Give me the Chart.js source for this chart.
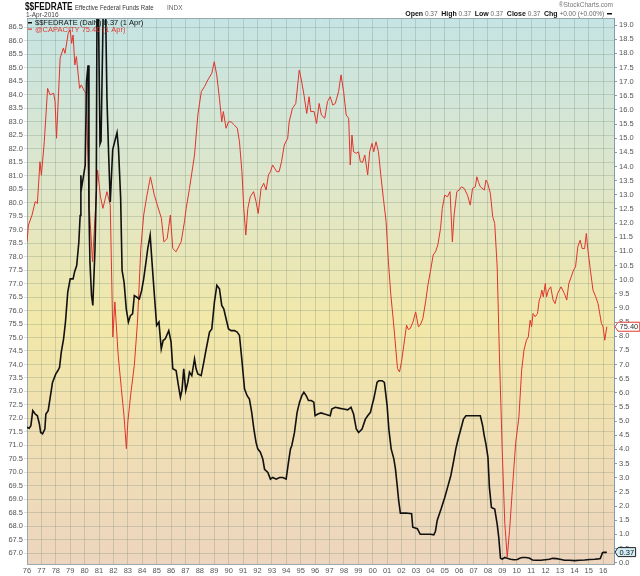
<!DOCTYPE html>
<html>
<head>
<meta charset="utf-8">
<title>$$FEDRATE Effective Federal Funds Rate</title>
<script src="https://cdn.jsdelivr.net/npm/chart.js@4.4.1/dist/chart.umd.min.js"></script>
<style>
  html, body { margin: 0; padding: 0; background: #fff; }
  #wrap { width: 640px; height: 576px; }
</style>
</head>
<body>
<div id="wrap"><canvas id="chart" width="640" height="576"></canvas></div>
<script>
// @CAPACITY (left axis)
const capYears = [
  1976.0, 1976.1, 1976.35, 1976.57, 1976.72, 1976.9, 1977.0, 1977.2, 1977.43, 1977.6,
  1977.85, 1977.95, 1978.05, 1978.3, 1978.52, 1978.64, 1978.86, 1979.0, 1979.1, 1979.2,
  1979.32, 1979.43, 1979.65, 1979.77, 1980.0, 1980.1, 1980.33, 1980.55, 1980.73, 1980.9,
  1981.1, 1981.27, 1981.55, 1981.78, 1981.96, 1982.1, 1982.33, 1982.55, 1982.73, 1982.9,
  1983.0, 1983.22, 1983.45, 1983.67, 1983.9, 1984.1, 1984.33, 1984.57, 1984.84, 1985.05,
  1985.33, 1985.5, 1985.73, 1985.95, 1986.12, 1986.35, 1986.7, 1986.93, 1987.05, 1987.28,
  1987.63, 1987.86, 1988.1, 1988.32, 1988.55, 1988.83, 1989.0, 1989.17, 1989.36, 1989.52,
  1989.63, 1989.82, 1989.99, 1990.17, 1990.4, 1990.6, 1990.75, 1990.92, 1991.05, 1991.19,
  1991.33, 1991.5, 1991.73, 1991.9, 1992.05, 1992.25, 1992.43, 1992.6, 1992.76, 1992.9,
  1993.05, 1993.34, 1993.5, 1993.67, 1993.86, 1994.1, 1994.2, 1994.43, 1994.66, 1994.9,
  1995.05, 1995.23, 1995.42, 1995.58, 1995.7, 1995.93, 1996.1, 1996.28, 1996.44, 1996.67,
  1996.86, 1997.05, 1997.23, 1997.4, 1997.63, 1997.8, 1997.98, 1998.16, 1998.33, 1998.44,
  1998.56, 1998.67, 1998.86, 1999.02, 1999.14, 1999.3, 1999.45, 1999.65, 1999.79, 1999.95,
  2000.07, 2000.23, 2000.4, 2000.56, 2000.74, 2000.93, 2001.09, 2001.26, 2001.44, 2001.6,
  2001.72, 2001.86, 2002.0, 2002.16, 2002.35, 2002.47, 2002.6, 2002.8, 2002.98, 2003.17,
  2003.3, 2003.48, 2003.67, 2003.83, 2004.0, 2004.2, 2004.36, 2004.52, 2004.71, 2004.83,
  2005.0, 2005.19, 2005.37, 2005.53, 2005.65, 2005.84, 2006.0, 2006.16, 2006.35, 2006.58,
  2006.77, 2006.93, 2007.12, 2007.23, 2007.35, 2007.47, 2007.75, 2007.86, 2007.98, 2008.17,
  2008.33, 2008.47, 2008.64, 2008.8, 2008.99, 2009.17, 2009.34, 2009.5, 2009.69, 2009.92,
  2010.15, 2010.34, 2010.5, 2010.67, 2010.8, 2010.93, 2011.03, 2011.13, 2011.28, 2011.44,
  2011.56, 2011.65, 2011.74, 2011.84, 2011.98, 2012.07, 2012.2, 2012.36, 2012.52, 2012.66,
  2012.83, 2013.07, 2013.31, 2013.47, 2013.61, 2013.78, 2013.94, 2014.08, 2014.24, 2014.4,
  2014.54, 2014.71, 2014.83, 2014.94, 2015.11, 2015.29, 2015.48, 2015.64, 2015.76, 2015.88,
  2015.99, 2016.11, 2016.25
];
const capValues = [
  78.55, 79.17, 79.54, 80.04, 79.97, 81.52, 81.02, 82.26, 84.24, 84.0,
  84.06, 83.75, 82.39, 85.36, 85.73, 85.54, 86.28, 86.41, 85.91, 86.22,
  85.11, 85.42, 84.24, 84.37, 84.12, 84.06, 79.79, 77.81, 79.54, 81.21,
  80.22, 79.79, 80.41, 79.91, 75.02, 76.32, 74.34, 73.11, 72.12, 70.88,
  71.87, 72.98, 73.97, 75.58, 78.3, 79.54, 80.28, 80.96, 80.28, 79.91,
  79.42, 78.55, 78.67, 79.54, 78.3, 78.18, 78.55, 79.29, 79.79, 80.53,
  81.77, 83.25, 84.12, 84.3, 84.55, 84.8, 85.23, 84.74, 83.87, 83.0,
  83.38, 82.76, 83.0, 83.0, 82.88, 82.76, 82.26, 81.15, 79.79, 78.8,
  79.79, 80.22, 80.41, 80.04, 79.6, 80.53, 80.72, 80.47, 81.03, 81.15,
  81.4, 81.15, 81.15, 81.52, 82.14, 82.39, 83.0, 83.5, 83.68, 84.92,
  84.55, 83.99, 83.31, 83.93, 83.38, 83.38, 82.94, 83.68, 83.25, 83.13,
  83.75, 83.93, 83.62, 83.68, 84.12, 84.74, 84.12, 83.25, 83.13, 81.4,
  82.51, 81.89, 81.83, 81.89, 81.52, 81.5, 81.77, 81.03, 81.89, 82.2,
  81.89, 82.26, 81.89, 81.03, 80.16, 79.29, 77.81, 76.57, 75.58, 74.59,
  73.85, 73.72, 74.1, 74.72, 75.46, 75.3, 75.33, 75.58, 75.95, 75.4,
  75.46, 75.7, 76.32, 76.94, 77.44, 78.06, 78.18, 78.43, 79.05, 79.79,
  80.28, 80.22, 80.41, 78.55, 79.54, 80.41, 80.47, 80.59, 80.53, 80.28,
  79.91, 80.53, 80.59, 80.96, 80.75, 80.59, 80.47, 80.84, 80.72, 80.34,
  79.48, 79.23, 77.62, 74.28, 70.82, 68.1, 66.86, 67.85, 69.33, 71.07,
  72.06, 73.79, 74.53, 74.9, 75.02, 75.64, 75.4, 75.89, 75.77, 75.89,
  76.39, 76.5, 76.76, 76.51, 77.0, 76.51, 76.76, 76.88, 76.39, 76.26,
  76.63, 76.88, 76.63, 76.39, 77.0, 77.25, 77.5, 77.62, 78.37, 78.61,
  78.3, 78.3, 78.86, 78.24, 77.5, 76.76, 76.51, 76.26, 75.89, 75.52,
  75.4, 74.9, 75.40
];

// $$FEDRATE (right axis)
const fedYears = [
  1976.0, 1976.15, 1976.27, 1976.4, 1976.57, 1976.72, 1976.86, 1976.95, 1977.08, 1977.24,
  1977.31, 1977.47, 1977.63, 1977.77, 1978.0, 1978.15, 1978.26, 1978.38, 1978.54, 1978.67,
  1978.83, 1979.0, 1979.2, 1979.3, 1979.45, 1979.6, 1979.69, 1979.74, 1979.78, 1979.9,
  1980.04, 1980.13, 1980.24, 1980.3, 1980.37, 1980.48, 1980.57, 1980.72, 1980.81, 1980.86,
  1980.95, 1981.07, 1981.14, 1981.3, 1981.45, 1981.55, 1981.67, 1981.78, 1981.95, 1982.1,
  1982.25, 1982.35, 1982.5, 1982.6, 1982.74, 1982.89, 1983.04, 1983.18, 1983.33,
  1983.45, 1983.63, 1983.8, 1983.96, 1984.1, 1984.26, 1984.38, 1984.55, 1984.71, 1984.88,
  1985.0, 1985.16, 1985.32, 1985.45, 1985.6, 1985.84, 1986.0, 1986.12, 1986.35, 1986.51,
  1986.65, 1986.76, 1986.88, 1987.02, 1987.16, 1987.28, 1987.44, 1987.63, 1987.74, 1987.86,
  1988.09, 1988.27, 1988.44, 1988.67, 1988.83, 1989.01, 1989.18, 1989.36, 1989.52, 1989.66,
  1989.82, 1989.99, 1990.17, 1990.4, 1990.59, 1990.75, 1990.91, 1991.1, 1991.28, 1991.44,
  1991.6, 1991.75, 1991.9, 1992.02, 1992.2, 1992.37, 1992.49, 1992.72, 1992.9, 1993.06,
  1993.3, 1993.53, 1993.76, 1993.99, 1994.15, 1994.29, 1994.38, 1994.57, 1994.75, 1994.92,
  1995.08, 1995.22, 1995.38, 1995.54, 1995.73, 1995.91, 1996.0, 1996.19, 1996.42, 1996.65,
  1996.88, 1997.05, 1997.16, 1997.4, 1997.74, 1997.98, 1998.26, 1998.49, 1998.67, 1998.86,
  1999.02, 1999.26, 1999.49, 1999.65, 1999.84, 1999.95, 2000.07, 2000.19, 2000.3, 2000.42,
  2000.65, 2000.81, 2001.0, 2001.12, 2001.28, 2001.47, 2001.58, 2001.7, 2001.8, 2001.92,
  2002.3, 2002.7, 2002.78, 2003.1, 2003.3, 2004.0, 2004.24, 2004.35, 2004.48, 2004.75,
  2005.0, 2005.23, 2005.42, 2005.6, 2005.77, 2005.93, 2006.12, 2006.3, 2006.47, 2006.93,
  2007.47, 2007.63, 2007.74, 2007.86, 2008.0, 2008.1, 2008.24, 2008.47, 2008.64, 2008.75,
  2008.87, 2008.99, 2009.17, 2009.34, 2009.57, 2009.8, 2010.04, 2010.2, 2010.39, 2010.62,
  2010.86, 2011.09, 2011.32, 2011.67, 2011.98, 2012.26, 2012.49, 2012.77, 2013.0, 2013.31,
  2013.66, 2014.0, 2014.36, 2014.71, 2015.06, 2015.41, 2015.64, 2015.8, 2015.95, 2016.04,
  2016.18, 2016.25
];
const fedValues = [
  4.78, 4.75, 4.84, 5.37, 5.25, 5.19, 4.9, 4.6, 4.55, 4.72,
  5.25, 5.37, 5.9, 6.37, 6.67, 6.79, 6.9, 7.44, 7.91, 8.5,
  9.56, 10.03, 10.03, 10.27, 10.5, 11.33, 12.27, 13.69, 13.22, 13.6,
  14.04, 17.0, 17.58, 12.51, 10.62, 9.44, 9.09, 11.09, 13.22, 19.8,
  19.8, 14.8, 14.9, 19.8, 19.8, 16.4, 14.4, 12.75, 14.6, 14.9,
  15.2, 14.65, 12.9, 10.33, 9.91, 8.97, 8.5, 8.73, 8.79,
  9.44, 9.38, 9.32, 9.62, 10.03, 10.62, 11.09, 11.57, 10.39, 9.2,
  8.38, 8.5, 7.55, 7.85, 7.91, 8.2, 7.8, 6.85, 6.79, 6.26,
  5.84, 6.1, 6.85, 6.08, 6.37, 6.73, 6.61, 7.2, 6.85, 6.67,
  6.61, 7.08, 7.55, 8.15, 8.26, 9.21, 9.8, 9.68, 9.09, 8.97,
  8.62, 8.26, 8.2, 8.2, 8.15, 8.03, 7.2, 6.14, 5.9, 5.78,
  5.31, 4.72, 4.25, 4.02, 3.9, 3.66, 3.3, 3.19, 2.95, 3.01,
  2.95, 3.01, 3.01, 2.95, 3.54, 4.02, 4.13, 4.6, 5.31, 5.67,
  5.9, 6.02, 5.9, 5.73, 5.73, 5.67, 5.19, 5.25, 5.29, 5.25,
  5.22, 5.19, 5.43, 5.49, 5.45, 5.43, 5.4, 5.49, 5.25, 4.72,
  4.6, 4.72, 5.07, 5.19, 5.31, 5.55, 5.78, 6.08, 6.37, 6.43,
  6.43, 6.37, 5.55, 4.72, 4.02, 3.66, 3.3, 2.72, 2.2, 1.75,
  1.75, 1.73, 1.25, 1.2, 1.0, 1.0, 0.98, 1.1, 1.5, 1.9,
  2.3, 2.72, 3.07, 3.54, 4.02, 4.37, 4.72, 5.07, 5.19, 5.19,
  5.19, 4.84, 4.49, 4.19, 3.72, 2.66, 1.95, 1.89, 1.36, 0.89,
  0.15, 0.12, 0.18, 0.15, 0.12, 0.1, 0.11, 0.15, 0.18, 0.18,
  0.16, 0.09, 0.08, 0.08, 0.1, 0.12, 0.15, 0.14, 0.12, 0.08,
  0.08, 0.07, 0.08, 0.09, 0.11, 0.12, 0.13, 0.14, 0.35, 0.36,
  0.36, 0.37
];

const xRange = [1976, 2016.75];
const leftRange = [66.6, 86.85];
const rightRange = [-0.05, 19.25];

const tickFont = { family: "'Liberation Sans', Arial, sans-serif", size: 7.5 };
const gridColor = 'rgba(110,135,115,0.28)';

const bgPlugin = {
  id: 'bg',
  beforeDraw(chart) {
    const { ctx, chartArea: a } = chart;
    const g = ctx.createLinearGradient(0, a.top, 0, a.bottom);
    g.addColorStop(0, 'rgb(197,228,228)');
    g.addColorStop(0.3, 'rgb(222,230,202)');
    g.addColorStop(0.56, 'rgb(242,232,168)');
    g.addColorStop(0.78, 'rgb(240,222,180)');
    g.addColorStop(1, 'rgb(237,213,190)');
    ctx.save();
    ctx.fillStyle = g;
    ctx.fillRect(a.left, a.top, a.right - a.left, a.bottom - a.top);
    ctx.restore();
  }
};

// text squeezed horizontally, like the narrow header face
function narrowText(ctx, text, x, y, font, color, sx) {
  ctx.save();
  ctx.font = font;
  ctx.fillStyle = color;
  ctx.translate(x, y);
  ctx.scale(sx, 1);
  ctx.fillText(text, 0, 0);
  ctx.restore();
}

function tag(ctx, x, y, text, fill, stroke, color) {
  ctx.save();
  ctx.font = "7.5px 'Liberation Sans', Arial, sans-serif";
  const w = ctx.measureText(text).width + 3;
  const h = 9;
  ctx.beginPath();
  ctx.moveTo(x, y);
  ctx.lineTo(x + 3, y - h / 2);
  ctx.lineTo(x + 3 + w, y - h / 2);
  ctx.lineTo(x + 3 + w, y + h / 2);
  ctx.lineTo(x + 3, y + h / 2);
  ctx.closePath();
  ctx.fillStyle = fill;
  ctx.fill();
  ctx.strokeStyle = stroke;
  ctx.lineWidth = 1;
  ctx.stroke();
  ctx.fillStyle = color;
  ctx.textBaseline = 'middle';
  ctx.fillText(text, x + 4.5, y + 0.5);
  ctx.restore();
}

const textPlugin = {
  id: 'texts',
  afterDraw(chart) {
    const { ctx, chartArea: a } = chart;
    ctx.save();
    ctx.strokeStyle = '#9aa8b0';
    ctx.lineWidth = 1;
    ctx.beginPath();
    ctx.moveTo(a.left, a.top + 0.5);
    ctx.lineTo(a.right, a.top + 0.5);
    ctx.stroke();

    // header
    ctx.textBaseline = 'alphabetic';
    narrowText(ctx, '$$FEDRATE', 25, 10, "bold 11px 'Liberation Sans', sans-serif", '#111', 0.75);
    narrowText(ctx, 'Effective Federal Funds Rate', 75, 10, "8px 'Liberation Sans', sans-serif", '#333', 0.76);
    ctx.fillStyle = '#666';
    ctx.font = "6.5px 'Liberation Sans', sans-serif";
    ctx.fillText('INDX', 167, 10);
    ctx.fillStyle = '#444';
    ctx.font = "6.5px 'Liberation Sans', sans-serif";
    ctx.fillText('1-Apr-2016', 26, 17);

    ctx.fillStyle = '#777';
    ctx.font = "6.5px 'Liberation Sans', sans-serif";
    ctx.textAlign = 'right';
    ctx.fillText('\u00AEStockCharts.com', 613, 7);
    ctx.textAlign = 'left';

    const parts = [
      ['Open', true], [' 0.37  ', false], ['High', true], [' 0.37  ', false],
      ['Low', true], [' 0.37  ', false], ['Close', true], [' 0.37  ', false],
      ['Chg', true], [' +0.00 (+0.00%) ', false]
    ];
    const boldF = "bold 7px 'Liberation Sans', sans-serif";
    const normF = "6.5px 'Liberation Sans', sans-serif";
    let total = 0;
    parts.forEach(p => { ctx.font = p[1] ? boldF : normF; total += ctx.measureText(p[0]).width; });
    let x = 606 - total;
    parts.forEach(p => {
      ctx.font = p[1] ? boldF : normF;
      ctx.fillStyle = p[1] ? '#111' : '#666';
      ctx.fillText(p[0], x, 16);
      x += ctx.measureText(p[0]).width;
    });
    ctx.fillStyle = '#111';
    ctx.fillRect(607, 13, 5, 1.5);

    // legend
    ctx.font = "7.5px 'Liberation Sans', sans-serif";
    ctx.fillStyle = '#111';
    ctx.fillRect(28, 22, 4, 1.5);
    ctx.fillText('$$FEDRATE (Daily) 0.37 (1 Apr)', 35, 25);
    ctx.fillStyle = '#e03a32';
    ctx.fillRect(28, 28.5, 4, 1.2);
    ctx.fillText('@CAPACITY 75.40 (1 Apr)', 35, 31.5);
    ctx.restore();

    // last value tags
    const yl = chart.scales.yLeft, yr = chart.scales.yRight;
    const capLast = capValues[capValues.length - 1];
    const fedLast = fedValues[fedValues.length - 1];
    tag(ctx, a.right + 1, yl.getPixelForValue(capLast), capLast.toFixed(2), '#fff', '#e03a32', '#333');
    tag(ctx, a.right + 1, yr.getPixelForValue(fedLast), fedLast.toFixed(2), '#d2eef6', '#222', '#111');
  }
};

const capData = capYears.map((x, i) => ({ x, y: capValues[i] }));
const fedData = fedYears.map((x, i) => ({ x, y: fedValues[i] }));

new Chart(document.getElementById('chart'), {
  type: 'line',
  data: {
    datasets: [
      {
        label: '$$FEDRATE (Daily)',
        data: fedData,
        yAxisID: 'yRight',
        borderColor: '#111',
        borderWidth: 1.6,
        pointRadius: 0,
        tension: 0
      },
      {
        label: '@CAPACITY',
        data: capData,
        yAxisID: 'yLeft',
        borderColor: '#e0342c',
        borderWidth: 1,
        pointRadius: 0,
        tension: 0
      }
    ]
  },
  options: {
    responsive: false,
    animation: false,
    layout: { padding: { top: 18, left: 0, right: 0, bottom: 0 } },
    plugins: {
      legend: { display: false },
      tooltip: { enabled: false }
    },
    scales: {
      x: {
        type: 'linear',
        min: xRange[0],
        max: xRange[1],
        afterFit: s => { s.height = 12; },
        border: { color: '#9aa8b0' },
        grid: { color: gridColor, tickLength: 0 },
        ticks: {
          stepSize: 1,
          includeBounds: false,
          autoSkip: false,
          maxRotation: 0,
          padding: 2,
          font: tickFont,
          color: '#555',
          callback: v => String(v % 100).padStart(2, '0')
        }
      },
      yLeft: {
        type: 'linear',
        position: 'left',
        min: leftRange[0],
        max: leftRange[1],
        afterFit: s => { s.width = 27; },
        border: { color: '#9aa8b0' },
        grid: { color: gridColor, tickLength: 3 },
        ticks: {
          stepSize: 0.5,
          includeBounds: false,
          autoSkip: false,
          padding: 1,
          font: tickFont,
          color: '#555',
          callback: v => v.toFixed(1)
        }
      },
      yRight: {
        type: 'linear',
        position: 'right',
        min: rightRange[0],
        max: rightRange[1],
        afterFit: s => { s.width = 26; },
        border: { color: '#7f9db0', dash: [1, 2] },
        grid: { drawOnChartArea: false, tickLength: 3, color: '#999' },
        ticks: {
          stepSize: 0.5,
          includeBounds: false,
          autoSkip: false,
          padding: 2,
          font: tickFont,
          color: '#555',
          callback: v => v.toFixed(1)
        }
      }
    }
  },
  plugins: [bgPlugin, textPlugin]
});
</script>
</body>
</html>
